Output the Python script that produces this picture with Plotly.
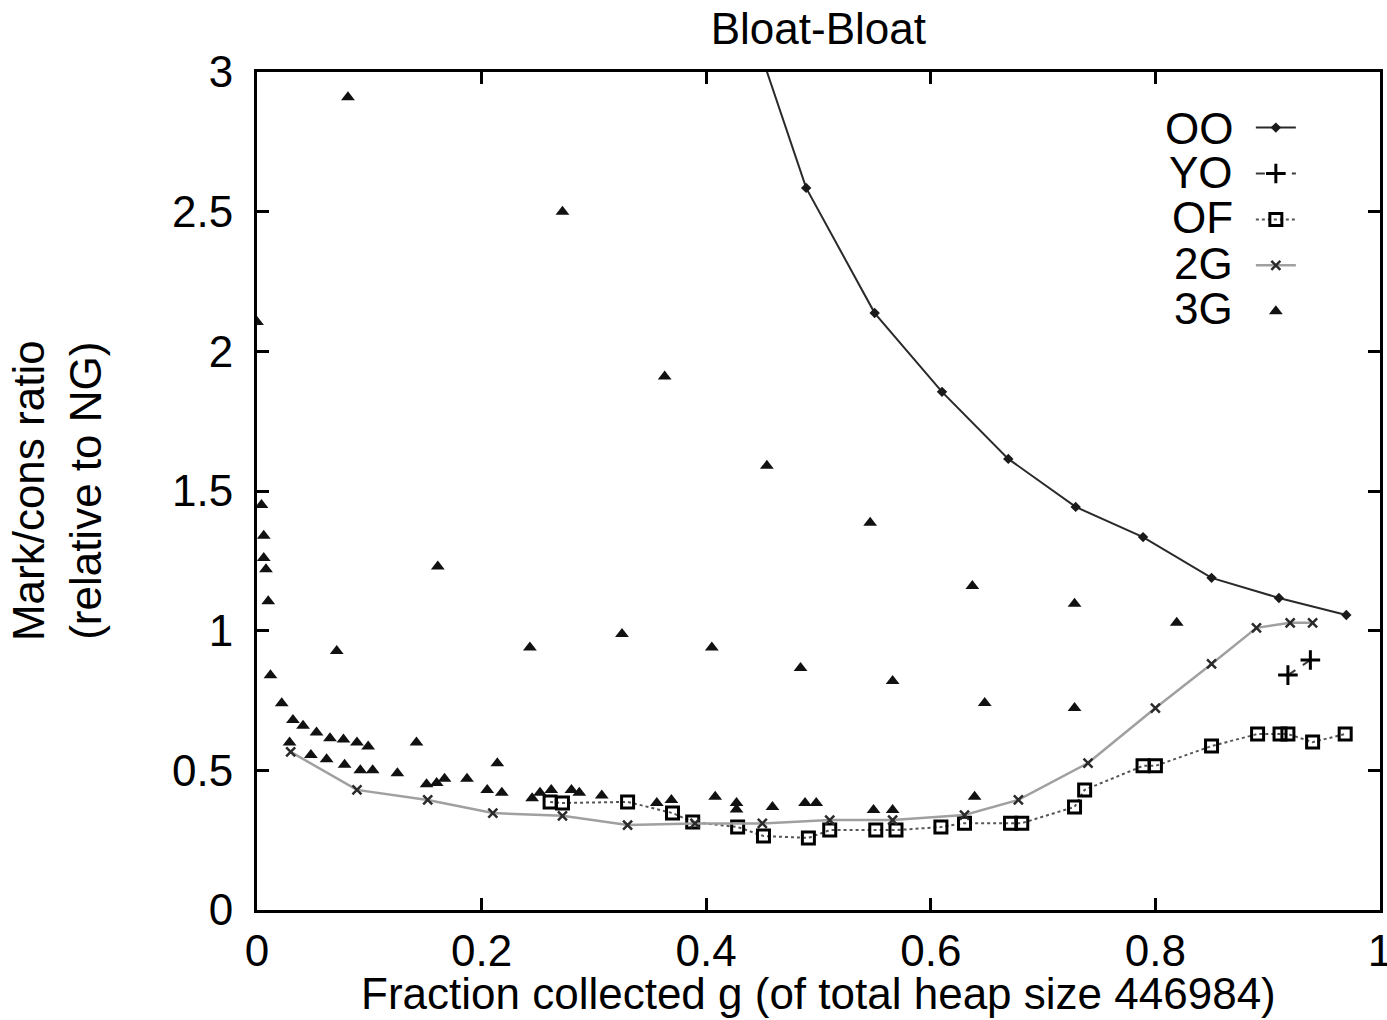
import plotly.graph_objects as go

# ---------------- data ----------------
OO_g = [0.429, 0.489, 0.550, 0.610, 0.669, 0.729, 0.789, 0.850, 0.910, 0.970]
OO_v = [3.30, 2.585, 2.137, 1.855, 1.615, 1.443, 1.335, 1.189, 1.117, 1.056]

YO_g = [0.918, 0.938]
YO_v = [0.841, 0.895]

OF_g = [0.261, 0.272, 0.330, 0.370, 0.388, 0.428, 0.451, 0.491, 0.510, 0.551,
        0.569, 0.609, 0.630, 0.671, 0.681, 0.728, 0.737, 0.789, 0.800, 0.850,
        0.891, 0.911, 0.918, 0.940, 0.969]
OF_v = [0.387, 0.383, 0.387, 0.347, 0.315, 0.297, 0.265, 0.258, 0.286, 0.286,
        0.286, 0.297, 0.311, 0.311, 0.311, 0.369, 0.430, 0.516, 0.516, 0.587,
        0.630, 0.630, 0.630, 0.601, 0.630]

G2_g = [0.030, 0.089, 0.152, 0.210, 0.272, 0.330, 0.390, 0.450, 0.510, 0.566,
        0.630, 0.678, 0.740, 0.800, 0.850, 0.890, 0.920, 0.940]
G2_v = [0.566, 0.430, 0.394, 0.347, 0.337, 0.304, 0.310, 0.310, 0.322, 0.322,
        0.340, 0.394, 0.526, 0.723, 0.881, 1.010, 1.028, 1.028]

G3_g = [0.000, 0.004, 0.006, 0.006, 0.008, 0.010, 0.012,
        0.022, 0.032, 0.041, 0.053, 0.065, 0.077, 0.089, 0.099,
        0.029, 0.048, 0.062, 0.078, 0.092, 0.103, 0.125, 0.151, 0.160, 0.167,
        0.187, 0.205, 0.218,
        0.071, 0.081, 0.142, 0.161, 0.214, 0.243, 0.272, 0.325, 0.363, 0.405,
        0.454, 0.484, 0.546, 0.566, 0.637, 0.648, 0.728, 0.728, 0.819,
        0.245, 0.252, 0.262, 0.280, 0.287, 0.307, 0.356, 0.369, 0.408, 0.427,
        0.427, 0.459, 0.488, 0.498, 0.549, 0.566, 0.639]
G3_v = [2.105, 1.450, 1.340, 1.260, 1.220, 1.105, 0.840,
        0.740, 0.680, 0.660, 0.635, 0.615, 0.610, 0.600, 0.585,
        0.600, 0.555, 0.540, 0.520, 0.500, 0.500, 0.490, 0.450, 0.455, 0.470,
        0.470, 0.430, 0.420,
        0.927, 2.910, 0.600, 1.230, 0.525, 0.940, 2.500, 0.988, 1.910, 0.940,
        1.590, 0.866, 1.386, 0.820, 1.160, 0.741, 1.096, 0.723, 1.028,
        0.400, 0.420, 0.430, 0.430, 0.420, 0.410, 0.383, 0.394, 0.405, 0.383,
        0.360, 0.369, 0.383, 0.383, 0.358, 0.358, 0.405]

SERIES_NAMES = ["OO", "YO", "OF", "2G", "3G"]

X_TICKS = [0, 0.2, 0.4, 0.6, 0.8, 1]
Y_TICKS = [0, 0.5, 1, 1.5, 2, 2.5, 3]

TITLE = "Bloat-Bloat"
X_TITLE = "Fraction collected g (of total heap size 446984)"
Y_TITLE = "Mark/cons ratio<br>(relative to NG)"

FONT = "Liberation Sans, Arial, sans-serif"

# ---------------- figure ----------------
fig = go.Figure()

fig.add_trace(go.Scatter(
    x=OO_g, y=OO_v, name=" ", legendrank=1, mode="lines+markers",
    line=dict(color="#2a2a2a", width=2),
    marker=dict(symbol="diamond", size=8, color="#1a1a1a"),
))
fig.add_trace(go.Scatter(
    x=YO_g, y=YO_v, name=" ", legendrank=2, mode="lines+markers",
    line=dict(color="#3a3a3a", width=2, dash="dash"),
    marker=dict(symbol="cross-thin", size=14, color="#000000",
                line=dict(width=3, color="#000000")),
))
fig.add_trace(go.Scatter(
    x=OF_g, y=OF_v, name=" ", legendrank=3, mode="lines+markers",
    line=dict(color="#555555", width=2, dash="dot"),
    marker=dict(symbol="square-open", size=12, color="#000000",
                line=dict(width=3, color="#000000")),
))
fig.add_trace(go.Scatter(
    x=G2_g, y=G2_v, name=" ", legendrank=4, mode="lines+markers",
    line=dict(color="#a0a0a0", width=2.5),
    marker=dict(symbol="x-thin", size=9, color="#2a2a2a",
                line=dict(width=2.5, color="#2a2a2a")),
))
fig.add_trace(go.Scatter(
    x=G3_g, y=G3_v, name=" ", legendrank=5, mode="markers",
    marker=dict(symbol="triangle-up", size=12, color="#111111"),
))

axis_common = dict(
    showline=True, linecolor="black", linewidth=3, mirror="ticks",
    ticks="inside", ticklen=12, tickwidth=3, tickcolor="black",
    showgrid=False, zeroline=False, ticklabeloverflow="allow",
    tickfont=dict(family=FONT, size=44, color="black"),
)

fig.update_xaxes(range=[0, 1], tickvals=X_TICKS,
                 ticktext=[f"{v:g}" for v in X_TICKS],
                 ticklabelstandoff=0, **axis_common)
fig.update_yaxes(range=[0, 3], tickvals=Y_TICKS,
                 ticktext=[f"{v:g}" for v in Y_TICKS],
                 ticklabelstandoff=12, **axis_common)

# legend labels (text left of samples, as in the reference)
legend_label_y = [0.933, 0.880, 0.826, 0.772, 0.718]
annotations = [
    dict(text=X_TITLE, xref="paper", yref="paper", x=0.5, y=-0.1,
         xanchor="center", yanchor="middle", showarrow=False,
         font=dict(family=FONT, size=44, color="black")),
    dict(text=Y_TITLE, xref="paper", yref="paper", x=-0.178, y=0.5,
         xanchor="center", yanchor="middle", showarrow=False, textangle=-90,
         font=dict(family=FONT, size=44, color="black")),
]
for name, ly in zip(SERIES_NAMES, legend_label_y):
    annotations.append(dict(text=name, xref="paper", yref="paper", x=0.871, y=ly,
                            xanchor="right", yanchor="middle", showarrow=False,
                            font=dict(family=FONT, size=44, color="black")))

fig.update_layout(
    width=1387, height=1020,
    margin=dict(l=257, r=7, t=72, b=110, autoexpand=False),
    paper_bgcolor="white", plot_bgcolor="white",
    font=dict(family=FONT, size=44, color="black"),
    title=dict(text=TITLE, x=0.59, xanchor="center", y=0.972, yanchor="middle",
               font=dict(family=FONT, size=44, color="black")),
    showlegend=True,
    legend=dict(x=0.885, y=0.967, xanchor="left", yanchor="top",
                bgcolor="rgba(0,0,0,0)", borderwidth=0,
                font=dict(family=FONT, size=33, color="black"),
                tracegroupgap=0, itemwidth=40),
    annotations=annotations,
)

fig.write_html("out.html")
